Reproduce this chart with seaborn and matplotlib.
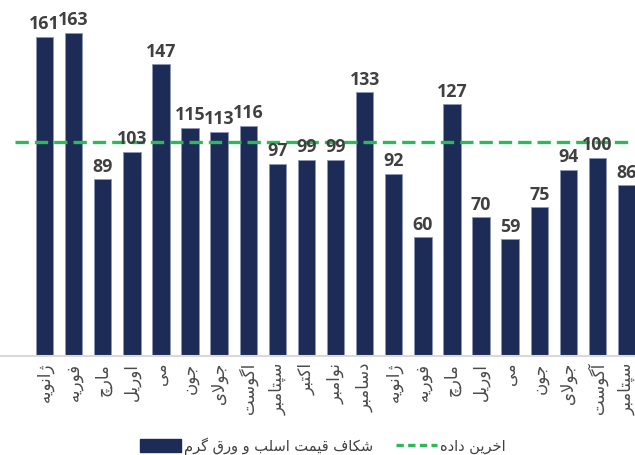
import numpy as np
import pandas as pd
import seaborn as sns
import matplotlib.pyplot as plt
from matplotlib.lines import Line2D
from matplotlib.patches import Patch

months = ["ژانویه", "فوریه", "مارچ", "اوریل", "می", "جون", "جولای", "اگوست",
          "سپتامبر", "اکتبر", "نوامبر", "دسامبر", "ژانویه", "فوریه", "مارچ",
          "اوریل", "می", "جون", "جولای", "آگوست", "سپتامبر"]
gap_values = [161, 163, 89, 103, 147, 115, 113, 116, 97, 99, 99, 133,
              92, 60, 127, 70, 59, 75, 94, 100, 86]
last_value = 108
bar_label = "شکاف قیمت اسلب و ورق گرم"
line_label = "اخرین داده"

# presentation forms: isolated, final, initial, medial (None = joins only to the right)
FORMS = {
    "ا": ("\uFE8D", "\uFE8E", None, None),
    "آ": ("\uFE81", "\uFE82", None, None),
    "ب": ("\uFE8F", "\uFE90", "\uFE91", "\uFE92"),
    "پ": ("\uFB56", "\uFB57", "\uFB58", "\uFB59"),
    "ت": ("\uFE95", "\uFE96", "\uFE97", "\uFE98"),
    "ج": ("\uFE9D", "\uFE9E", "\uFE9F", "\uFEA0"),
    "چ": ("\uFB7A", "\uFB7B", "\uFB7C", "\uFB7D"),
    "خ": ("\uFEA5", "\uFEA6", "\uFEA7", "\uFEA8"),
    "د": ("\uFEA9", "\uFEAA", None, None),
    "ر": ("\uFEAD", "\uFEAE", None, None),
    "ژ": ("\uFB8A", "\uFB8B", None, None),
    "س": ("\uFEB1", "\uFEB2", "\uFEB3", "\uFEB4"),
    "ش": ("\uFEB5", "\uFEB6", "\uFEB7", "\uFEB8"),
    "ف": ("\uFED1", "\uFED2", "\uFED3", "\uFED4"),
    "ق": ("\uFED5", "\uFED6", "\uFED7", "\uFED8"),
    "ک": ("\uFB8E", "\uFB8F", "\uFB90", "\uFB91"),
    "گ": ("\uFB92", "\uFB93", "\uFB94", "\uFB95"),
    "ل": ("\uFEDD", "\uFEDE", "\uFEDF", "\uFEE0"),
    "م": ("\uFEE1", "\uFEE2", "\uFEE3", "\uFEE4"),
    "ن": ("\uFEE5", "\uFEE6", "\uFEE7", "\uFEE8"),
    "و": ("\uFEED", "\uFEEE", None, None),
    "ه": ("\uFEE9", "\uFEEA", "\uFEEB", "\uFEEC"),
    "ی": ("\uFBFC", "\uFBFD", "\uFBFE", "\uFBFF"),
}


def shape(text):
    # simple persian shaping + reversal, since matplotlib has no bidi support
    chars = list(text)
    out = []
    i = 0
    prev_joins = False
    while i < len(chars):
        c = chars[i]
        if c not in FORMS:
            out.append(c)
            prev_joins = False
            i += 1
            continue
        nxt = chars[i + 1] if i + 1 < len(chars) else None
        if c == "ل" and nxt in ("ا", "آ"):
            lig = ("\uFEFB", "\uFEFC") if nxt == "ا" else ("\uFEF5", "\uFEF6")
            out.append(lig[1] if prev_joins else lig[0])
            prev_joins = False
            i += 2
            continue
        iso, fin, ini, med = FORMS[c]
        next_is_letter = nxt in FORMS
        if ini is None:
            out.append(fin if prev_joins else iso)
            prev_joins = False
        else:
            if prev_joins and next_is_letter:
                out.append(med)
            elif prev_joins:
                out.append(fin)
            elif next_is_letter:
                out.append(ini)
            else:
                out.append(iso)
            prev_joins = True
        i += 1
    return "".join(out[::-1])


df = pd.DataFrame({"pos": np.arange(len(gap_values)), "value": gap_values})

sns.set_theme(style="white")
plt.rcParams["font.family"] = ["DejaVu Sans"]

fig = plt.figure(figsize=(6.35, 4.55), dpi=100)
ax = fig.add_axes([0, 0.2176, 1, 0.7824])

navy = "#1d2b57"
green = "#2fb85a"

sns.barplot(data=df, x="pos", y="value", color=navy, saturation=1, width=0.6,
            edgecolor="#8d97b5", linewidth=0.6, ax=ax)

ax.bar_label(ax.containers[0], labels=[str(v) for v in gap_values], padding=2.5,
             fontsize=12.8, fontweight="bold", color="#404040",
             family=["Open Sans", "DejaVu Sans"])

ax.hlines(last_value, -1.0, 20.05, colors=green, linewidth=2.4,
          linestyles=(0, (4, 1.8)))

ax.set_xlim(-1.53, 20.29)
ax.set_ylim(0, 179.5)
ax.set_xticks(range(len(months)))
ax.set_xticklabels([shape(m) for m in months], rotation=90, fontsize=12,
                   color="#4a4a4a")
ax.tick_params(axis="x", length=0, pad=5)
ax.set_yticks([])
ax.set_xlabel("")
ax.set_ylabel("")
for side in ["top", "left", "right"]:
    ax.spines[side].set_visible(False)
ax.spines["bottom"].set_color("#d9d9d9")
ax.spines["bottom"].set_linewidth(1.5)

handles = [Patch(facecolor=navy, edgecolor=navy),
           Line2D([0], [0], color=green, linewidth=2.4, linestyle=(0, (2.2, 1.3)))]
labels = [shape(bar_label), shape(line_label)]
fig.legend(handles, labels, loc="center", bbox_to_anchor=(0.508, 0.02),
           ncol=2, frameon=False, fontsize=10.5, labelcolor="#404040",
           handlelength=2.8, handleheight=1.0, columnspacing=1.6, handletextpad=0.2)

fig.savefig("out.png", dpi=100)
